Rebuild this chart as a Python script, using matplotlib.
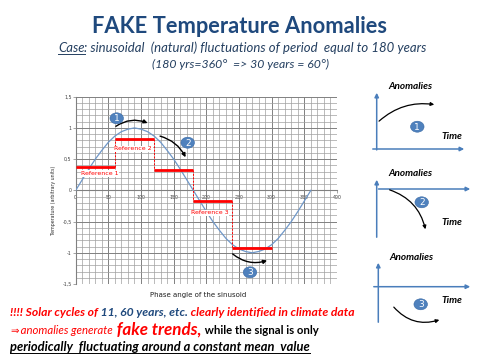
import matplotlib
matplotlib.use('Agg')
import matplotlib.pyplot as plt
from matplotlib.patches import Ellipse, FancyArrowPatch
from matplotlib.ticker import MultipleLocator, FuncFormatter

# ---------------- data ----------------
phase_deg = list(range(0, 370, 10))
signal = [0.00, 0.17, 0.34, 0.50, 0.64, 0.77, 0.87, 0.94, 0.98, 1.00,
          0.98, 0.94, 0.87, 0.77, 0.64, 0.50, 0.34, 0.17, 0.00,
          -0.17, -0.34, -0.50, -0.64, -0.77, -0.87, -0.94, -0.98, -1.00,
          -0.98, -0.94, -0.87, -0.77, -0.64, -0.50, -0.34, -0.17, 0.00]
ref_edges = [0, 60, 120, 180, 240, 300]
ref_levels = [0.38, 0.83, 0.32, -0.17, -0.92]
ref_labels = ['Reference 1', 'Reference 2', 'Reference 3']
xticks = [0, 50, 100, 150, 200, 250, 300, 350, 400]
yticks = [-1.5, -1.0, -0.5, 0.0, 0.5, 1.0, 1.5]

RED = '#ff0000'
NAVY = '#1f497d'
SUB = '#243f60'
AXBLUE = '#4a7ebb'
BUBBLE = '#4f81bd'

fig = plt.figure(figsize=(4.8, 3.6), dpi=100)
fig.patch.set_facecolor('white')

# ---------------- main chart ----------------
L, R, T, B = 75.7, 337.0, 96.7, 284.0
ax = fig.add_axes([L / 480, 1 - B / 360, (R - L) / 480, (B - T) / 360])
ax.set_xlim(0, 400)
ax.set_ylim(-1.5, 1.5)
ax.set_xticks(xticks)
ax.set_yticks(yticks)
ax.xaxis.set_minor_locator(MultipleLocator(10))
ax.yaxis.set_minor_locator(MultipleLocator(0.1))
ax.grid(which='minor', color='#a0a0a0', lw=0.5)
ax.grid(which='major', color='#808080', lw=0.7)
ax.set_axisbelow(True)
for s in ['top', 'right']:
    ax.spines[s].set_visible(False)
ax.spines['bottom'].set_position(('data', 0))
ax.spines['bottom'].set_color('#808080')
ax.spines['left'].set_color('#808080')
ax.spines['bottom'].set_linewidth(0.8)
ax.spines['left'].set_linewidth(0.8)
ax.tick_params(which='major', length=2, width=0.5, color='#808080',
               labelsize=3.4, labelcolor='#404040', pad=1)
ax.tick_params(which='minor', length=0)
ax.yaxis.set_major_formatter(FuncFormatter(
    lambda v, p: ('%g' % v).replace('.', ',')))
ax.xaxis.set_major_formatter(FuncFormatter(lambda v, p: '%d' % v))

ax.plot(phase_deg, signal, color='#6f97c8', lw=0.9, zorder=3)
for i, lev in enumerate(ref_levels):
    ax.hlines(lev, ref_edges[i], ref_edges[i + 1], color=RED, lw=2, zorder=4)
for i in range(1, len(ref_levels)):
    ax.vlines(ref_edges[i], ref_levels[i - 1], ref_levels[i], color=RED,
              lw=0.7, linestyles=(0, (2, 1.5)), zorder=4)

lab_pos = [(37, 0.27), (88, 0.665), (205, -0.36)]
for txt, (x, y) in zip(ref_labels, lab_pos):
    ax.text(x, y, txt, color=RED, fontsize=4.5, ha='center', va='center',
            zorder=5, bbox=dict(facecolor='white', edgecolor='none', pad=0.4))

arrow_kw = dict(arrowstyle='-|>', mutation_scale=5.5, lw=1.0, color='black', zorder=6)
ax.add_patch(FancyArrowPatch((58, 1.0), (114, 1.06),
                             connectionstyle='arc3,rad=-0.3', **arrow_kw))
ax.add_patch(FancyArrowPatch((125, 0.88), (170, 0.49),
                             connectionstyle='arc3,rad=-0.25', **arrow_kw))
ax.add_patch(FancyArrowPatch((237, -0.99), (297, -1.11),
                             connectionstyle='arc3,rad=0.3', **arrow_kw))

# ---------------- overlay (pixel coordinates) ----------------
ov = fig.add_axes([0, 0, 1, 1], zorder=10)
ov.set_xlim(0, 480)
ov.set_ylim(360, 0)
ov.axis('off')
ov.patch.set_alpha(0)


def bubble(x, y, n, w=13.5, h=11):
    ov.add_patch(Ellipse((x, y), w, h, facecolor=BUBBLE, edgecolor='#3a6aa5',
                         lw=0.4, zorder=7))
    ov.text(x, y + 0.3, str(n), color='white', fontsize=6.5, ha='center',
            va='center', zorder=8)


bubble(116.7, 118.3, 1)
bubble(187.7, 142.7, 2)
bubble(250.0, 272.3, 3)

ov.text(53.3, 200, 'Temperature (arbitrary units)', rotation=90, fontsize=3.4,
        color='#303030', ha='center', va='center')
ov.text(198, 295, 'Phase angle of the sinusoid', fontsize=5,
        color='#202020', ha='center', va='center')

renderer = fig.canvas.get_renderer()


def draw_runs(runs, x0, y, target_w=None, align='left'):
    objs = []
    for s, kw in runs:
        kw = dict(kw)
        ul = kw.pop('underline', False)
        t = ov.text(0, y, s, va='baseline', ha='left', **kw)
        objs.append((t, ul))
    if target_w:
        for _ in range(2):
            tot = sum(t.get_window_extent(renderer).width for t, _ in objs)
            sc = target_w / tot
            for t, _u in objs:
                t.set_fontsize(t.get_fontsize() * sc)
    ws = [t.get_window_extent(renderer).width for t, _ in objs]
    tot = sum(ws)
    x = x0 - tot / 2 if align == 'center' else x0
    for (t, ul), w in zip(objs, ws):
        t.set_x(x)
        if ul:
            ov.plot([x, x + w], [y + 1.6, y + 1.6], color=t.get_color(), lw=0.7)
        x += w


FAM = ['Lato', 'DejaVu Sans']
draw_runs([('FAKE Temperature Anomalies',
            dict(family=FAM, weight='bold', color=NAVY, fontsize=15))],
          240, 32.7, target_w=294, align='center')
draw_runs([('Case', dict(family=FAM, style='italic', color=SUB, fontsize=9, underline=True)),
           (': sinusoidal  (natural) fluctuations of period  equal to 180 years',
            dict(family=FAM, style='italic', color=SUB, fontsize=9))],
          58, 52.3, target_w=364)
draw_runs([('(180 yrs=360°  => 30 years = 60°)',
            dict(family=FAM, style='italic', color=SUB, fontsize=9))],
          240.5, 68.3, target_w=177, align='center')

draw_runs([('!!!! Solar cycles of', dict(family=FAM, style='italic', weight='bold', color=RED, fontsize=9)),
           (' 11, 60 years, etc.', dict(family=FAM, style='italic', weight='bold', color=NAVY, fontsize=9)),
           (' clearly identified in climate data', dict(family=FAM, style='italic', weight='bold', color=RED, fontsize=9))],
          10, 316, target_w=345)
draw_runs([('\u21d2', dict(family=['DejaVu Sans'], color=RED, fontsize=8)),
           (' anomalies generate', dict(family=FAM, style='italic', color=RED, fontsize=9)),
           (' fake trends,', dict(family=FAM, style='italic', weight='bold', color=RED, fontsize=13.5)),
           (' while the signal is only', dict(family=FAM, weight='bold', color='black', fontsize=9))],
          10, 334.3, target_w=310)
draw_runs([('periodically  fluctuating around a constant mean  value',
            dict(family=FAM, style='italic', weight='bold', color='black', fontsize=9, underline=True))],
          10, 351, target_w=297)

# ---------------- right-hand schematic panels ----------------
ax_kw = dict(arrowstyle='-|>', mutation_scale=6, lw=1.1, color=AXBLUE, zorder=5)
cur_kw = dict(arrowstyle='-|>', mutation_scale=5, lw=0.9, color='black', zorder=6)
panels = [
    ((376.7, 152.7, 90), (149, 370, 467), (377, 123), (437, 105), -0.25,
     (410, 86.7), (451.7, 136.7), (417.3, 126.7)),
    ((376.7, 240, 177), (189, 375.7, 473), (387, 189), (426, 232), -0.3,
     (410, 174), (451.7, 222.7), (421.7, 202.3)),
    ((378.3, 325, 260), (286.7, 371, 473), (392, 305), (442, 319), 0.35,
     (411.7, 257.7), (452.3, 300.7), (420.7, 304.3)),
]
for n, (ya, xa, c0, c1, rad, apos, tpos, bpos) in enumerate(panels, start=1):
    ov.add_patch(FancyArrowPatch((ya[0], ya[1]), (ya[0], ya[2]), **ax_kw))
    ov.add_patch(FancyArrowPatch((xa[1], xa[0]), (xa[2], xa[0]), **ax_kw))
    ov.add_patch(FancyArrowPatch(c0, c1, connectionstyle='arc3,rad=%g' % rad, **cur_kw))
    ov.text(apos[0], apos[1], 'Anomalies', family=FAM, style='italic', weight='bold',
            fontsize=7.2, ha='center', va='center', color='black')
    ov.text(tpos[0], tpos[1], 'Time', family=FAM, style='italic', weight='bold',
            fontsize=7.2, ha='center', va='center', color='black')
    bubble(bpos[0], bpos[1], n)

fig.savefig('out.png', dpi=100, facecolor='white')
